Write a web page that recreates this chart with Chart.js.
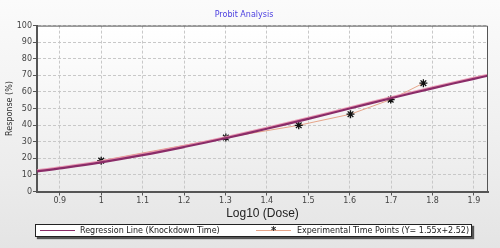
<!DOCTYPE html>
<html>
<head>
<meta charset="utf-8">
<script src="https://cdn.jsdelivr.net/npm/chart.js@4.4.1/dist/chart.umd.min.js"></script>
<style>
  html, body { margin: 0; padding: 0; }
  body { width: 500px; height: 248px; overflow: hidden;
         background: linear-gradient(to bottom, #fbfbfb 0%, #ececec 70%, #e4e4e4 100%); }
  #wrap { position: relative; width: 500px; height: 248px; }
  #legend { position: absolute; left: 35px; top: 224px; width: 435px; height: 11px;
            border: 1px solid #222; background: #fff; box-shadow: 2px 2px 1px #555;
            font: 8px "DejaVu Sans", sans-serif; color: #222; }
  .item { position: absolute; top: 0; line-height: 11px; white-space: nowrap; }
  .swatch { position: absolute; top: 5px; width: 35px; height: 0; }
</style>
</head>
<body>
<div id="wrap">
  <canvas id="chart" width="500" height="248"></canvas>
  <div id="legend">
    <div class="swatch" style="left:4px; border-top:1.5px solid #8a2c68;"></div>
    <div class="item" style="left:44px;">Regression Line (Knockdown Time)</div>
    <div class="swatch" style="left:220px; border-top:1px solid #e6a58a;"></div>
    <div class="item" style="left:235px; top:0; font-size:10px; font-weight:bold;">*</div>
    <div class="item" style="left:261px;">Experimental Time Points (Y= 1.55x+2.52)</div>
  </div>
</div>
<script>
// regression line
const regDose = [0.845, 0.9, 1.0, 1.1, 1.2, 1.3, 1.4, 1.5, 1.6, 1.7, 1.8, 1.9, 1.934];
const regResp = [12.1, 13.9, 17.6, 21.9, 26.8, 32.1, 37.8, 43.8, 50.0, 56.2, 62.2, 67.9, 69.8];

// experimental points
const expDose = [1.0, 1.301, 1.477, 1.602, 1.699, 1.778];
const expResp = [18.6, 32.5, 39.9, 46.6, 55.4, 65.3];

const xTicks = [0.9, 1.0, 1.1, 1.2, 1.3, 1.4, 1.5, 1.6, 1.7, 1.8, 1.9];

const plotBg = {
    id: 'plotBg',
    beforeDraw(chart) {
        const { ctx, chartArea: a } = chart;
        const g = ctx.createLinearGradient(0, a.top, 0, a.bottom);
        g.addColorStop(0, '#ffffff');
        g.addColorStop(1, '#ebebeb');
        ctx.save();
        ctx.fillStyle = g;
        ctx.fillRect(a.left, a.top, a.right - a.left, a.bottom - a.top);
        ctx.restore();
    },
    afterDraw(chart) {
        const { ctx, chartArea: a } = chart;
        ctx.save();
        ctx.strokeStyle = '#555';
        ctx.lineWidth = 1;
        ctx.beginPath();
        ctx.moveTo(a.left, a.top + 0.5);
        ctx.lineTo(a.right - 0.5, a.top + 0.5);
        ctx.lineTo(a.right - 0.5, a.bottom);
        ctx.stroke();
        ctx.restore();
    }
};

const regShadow = {
    id: 'regShadow',
    beforeDatasetDraw(chart, args) {
        if (args.index === 0) {
            chart.ctx.save();
            chart.ctx.shadowColor = 'rgba(230,140,170,0.9)';
            chart.ctx.shadowOffsetY = -1;
            chart.ctx.shadowBlur = 0;
        }
    },
    afterDatasetDraw(chart, args) {
        if (args.index === 0) chart.ctx.restore();
    }
};

new Chart(document.getElementById('chart'), {
    type: 'line',
    data: {
        datasets: [{
            label: 'Regression Line (Knockdown Time)',
            data: regDose.map((x, i) => ({ x, y: regResp[i] })),
            borderColor: '#8a2c68',
            borderWidth: 2.2,
            pointRadius: 0,
            tension: 0.4,
            fill: false
        }, {
            label: 'Experimental Time Points (Y= 1.55x+2.52)',
            data: expDose.map((x, i) => ({ x, y: expResp[i] })),
            borderColor: '#e6a58a',
            borderWidth: 1,
            pointStyle: 'star',
            pointRadius: 4,
            pointBorderColor: '#111',
            pointBorderWidth: 1.3,
            tension: 0,
            fill: false
        }]
    },
    options: {
        responsive: false,
        animation: false,
        layout: { padding: { left: 0, right: 12, top: 0, bottom: 27 } },
        plugins: {
            legend: { display: false },
            tooltip: { enabled: false },
            title: {
                display: true,
                text: 'Probit Analysis',
                color: '#4a3ee0',
                font: { family: 'DejaVu Sans', size: 8, weight: 'normal' },
                padding: { top: 10, bottom: 6 }
            }
        },
        scales: {
            x: {
                type: 'linear',
                min: 0.845,
                max: 1.934,
                afterBuildTicks: s => { s.ticks = xTicks.map(v => ({ value: v })); },
                afterFit: s => { s.height = 29.5; },
                ticks: {
                    color: '#444',
                    font: { family: 'DejaVu Sans', size: 8 },
                    padding: 1,
                    maxRotation: 0,
                    callback: v => String(Math.round(v * 10) / 10)
                },
                grid: { color: '#c8c8c8', tickColor: '#555', tickLength: 4 },
                border: { color: '#555', width: 2, dash: [3, 2] },
                title: {
                    display: true,
                    text: 'Log10 (Dose)',
                    color: '#222',
                    font: { family: 'Liberation Sans', size: 12 },
                    padding: { top: 0, bottom: 0 }
                }
            },
            y: {
                min: 0,
                max: 100,
                afterFit: s => { s.width = 37; },
                ticks: {
                    stepSize: 10,
                    color: '#444',
                    font: { family: 'DejaVu Sans', size: 8 },
                    padding: 1
                },
                grid: { color: '#c8c8c8', tickColor: '#555', tickLength: 4 },
                border: { color: '#555', width: 2, dash: [3, 2] },
                title: {
                    display: true,
                    text: 'Response (%)',
                    color: '#333',
                    font: { family: 'DejaVu Sans', size: 8 },
                    padding: { top: 5, bottom: 0 }
                }
            }
        }
    },
    plugins: [plotBg, regShadow]
});
</script>
</body>
</html>
